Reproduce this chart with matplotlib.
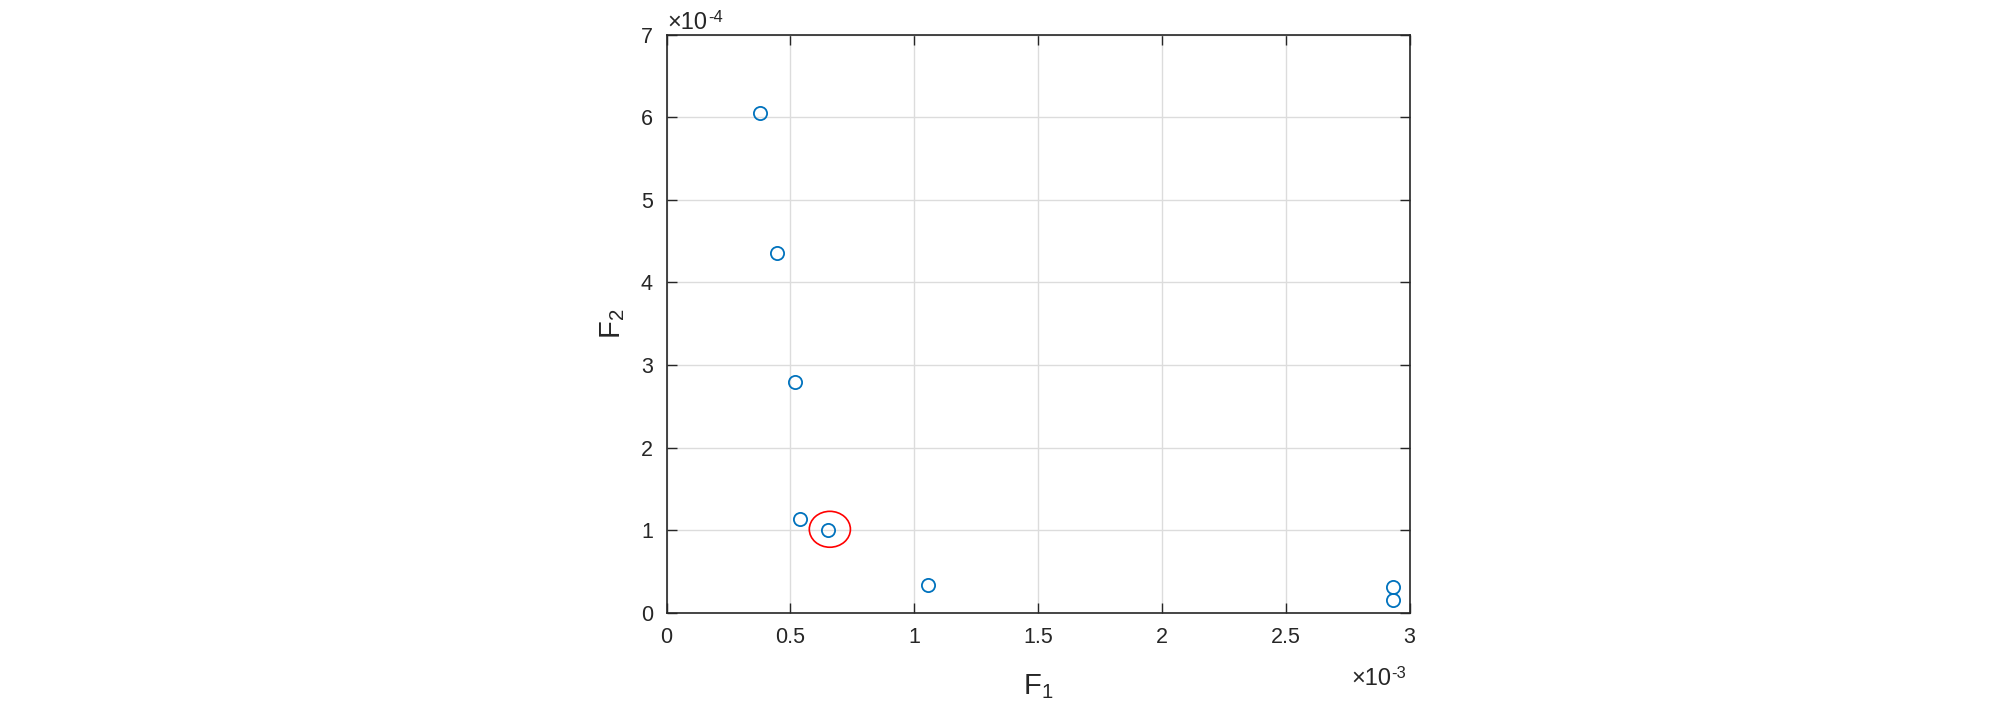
import matplotlib.pyplot as plt
from matplotlib.patches import Ellipse
from matplotlib.ticker import FuncFormatter

plt.rcParams['font.family'] = ['Liberation Sans', 'DejaVu Sans']

# Pareto front values
f1 = [0.376e-3, 0.446e-3, 0.518e-3, 0.540e-3, 0.652e-3, 1.056e-3, 2.933e-3, 2.933e-3]
f2 = [6.05e-4, 4.36e-4, 2.79e-4, 1.14e-4, 0.996e-4, 0.33e-4, 0.31e-4, 0.15e-4]

# chosen solution (red ring)
escolhido_f1 = 0.659e-3
escolhido_f2 = 1.01e-4

x_ticks = [0, 0.5e-3, 1e-3, 1.5e-3, 2e-3, 2.5e-3, 3e-3]
y_ticks = [0, 1e-4, 2e-4, 3e-4, 4e-4, 5e-4, 6e-4, 7e-4]

cinza = '#262626'

fig = plt.figure(figsize=(20.08, 7.03), dpi=100)
ax = fig.add_axes([0.332, 0.1285, 0.370, 0.822])

ax.plot(f1, f2, 'o', markerfacecolor='none', markeredgecolor='#0072BD',
        markersize=9.5, markeredgewidth=1.3, zorder=3)

ax.add_patch(Ellipse((escolhido_f1, escolhido_f2), 0.166e-3, 0.435e-4,
                     fill=False, edgecolor='red', linewidth=1.2, zorder=4))

ax.set_xlim(0, 3e-3)
ax.set_ylim(0, 7e-4)
ax.set_xticks(x_ticks)
ax.set_yticks(y_ticks)
ax.xaxis.set_major_formatter(FuncFormatter(lambda v, p: f"{v / 1e-3:g}"))
ax.yaxis.set_major_formatter(FuncFormatter(lambda v, p: f"{v / 1e-4:g}"))

ax.grid(True, color='#dcdcdc', linewidth=1)
ax.set_axisbelow(True)
ax.tick_params(direction='in', top=True, right=True, length=7, width=1,
               colors=cinza, labelsize=15.5, pad=10)
for s in ax.spines.values():
    s.set_color(cinza)
    s.set_linewidth(1.2)


def rotulo(texto, sub):
    # F com subscrito grande, estilo matlab
    return texto + r'$_{\mathregular{' + sub + '}}$'


ax.set_xlabel(rotulo('F', '1'), fontsize=21, color=cinza, labelpad=18)
ax.set_ylabel(rotulo('F', '2'), fontsize=21, color=cinza, labelpad=10)

# multiplicadores dos eixos
t1 = ax.text(0.0015, 1.0104, '×10', transform=ax.transAxes,
             fontsize=17, color=cinza, ha='left', va='baseline')
ax.annotate('-4', xy=(1, 1), xycoords=t1, xytext=(0.5, 1.5),
            textcoords='offset points', fontsize=12, color=cinza,
            ha='left', va='top')
t2 = ax.text(0.975, -0.125, '×10', transform=ax.transAxes,
             fontsize=17, color=cinza, ha='right', va='baseline')
ax.annotate('-3', xy=(1, 1), xycoords=t2, xytext=(0.5, 1.5),
            textcoords='offset points', fontsize=12, color=cinza,
            ha='left', va='top')

plt.savefig('out.png', dpi=100)
plt.close()
